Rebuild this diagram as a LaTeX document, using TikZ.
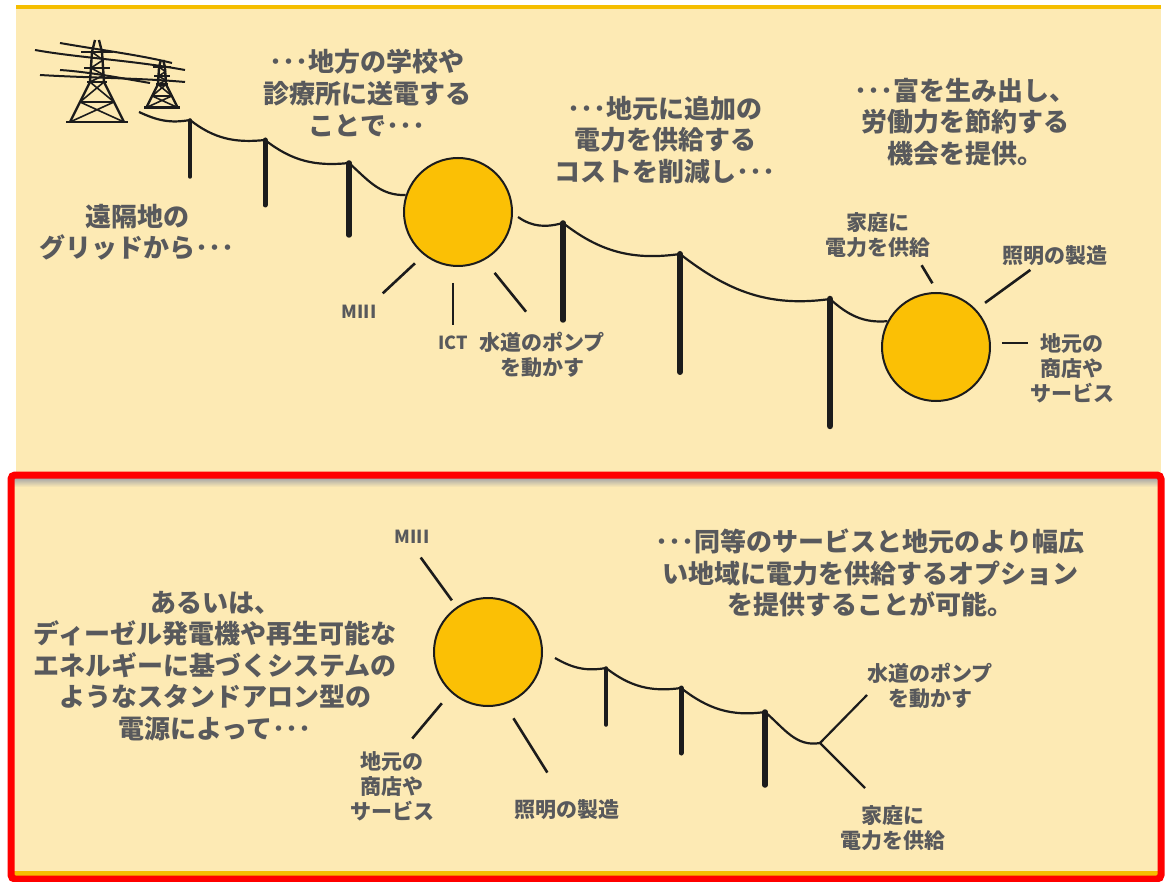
\documentclass[tikz,border=0pt]{standalone}
\usepackage{fontspec}
\setmainfont{Noto Sans CJK JP}
\usepackage{tikz}
\usetikzlibrary{calc,positioning}

\definecolor{panel}{RGB}{253,234,180}
\definecolor{sun}{RGB}{251,192,5}
\definecolor{ink}{RGB}{28,28,28}
\definecolor{txt}{RGB}{88,89,92}
\definecolor{trim}{RGB}{245,190,0}

\begin{document}
\begin{tikzpicture}[x=1pt, y=1pt,
  hub/.style={circle, draw=ink, line width=2pt, fill=sun, minimum size=108pt, inner sep=0pt},
  wire/.style={draw=ink, line width=2.2pt},
  pole/.style={draw=ink, line cap=round},
  spoke/.style={draw=ink, line width=2.6pt},
  cable/.style={draw=ink, line width=2pt},
  tower/.style={draw=ink, line width=2.4pt, line join=round},
  note/.style={font=\fontsize{26}{31.5}\selectfont\bfseries, text=txt, align=center, inner sep=0pt},
  tag/.style={font=\fontsize{21}{25}\selectfont\bfseries, text=txt, align=center, inner sep=0pt},
  abbr/.style={font=\fontsize{18}{20}\selectfont\bfseries, text=txt, inner sep=0pt},
  pics/pylon/.style={code={
    \draw[tower] (-2,0) -- (-5,-12) -- (-7,-42) -- (-27,-82);
    \draw[tower] (2,0) -- (5,-12) -- (7,-42) -- (27,-82);
    \draw[tower] (-16,-12) -- (16,-12) (-13,-28) -- (13,-28) (-10,-42) -- (10,-42);
    \draw[tower, line width=1.6pt] (-5,-12) -- (6,-20) -- (-6,-28) -- (7,-35) -- (-7,-42);
    \draw[tower, line width=1.6pt] (-7,-42) -- (17,-62) -- (-27,-82) (7,-42) -- (-17,-62) -- (27,-82)
      (-17,-62) -- (17,-62);
    \draw[tower] (-31,-82) -- (31,-82);
  }}
]
\useasboundingbox (0,0) rectangle (1165,-882);
\fill[white] (0,0) rectangle (1165,-882);

% panels
\fill[panel] (16,-5) rectangle (1161,-475);
\fill[trim] (16,-5) rectangle (1161,-9);
\fill[panel] (11,-475) rectangle (1161,-879);
\shade[top color=black!35, bottom color=panel] (14,-478) rectangle (1158,-487);
\fill[trim] (14,-871) rectangle (1158,-876);
\draw[red, line width=7pt, rounded corners=4pt] (11,-475) rectangle (1161,-879);

% pylons in the corner
\pic at (97,-40) {pylon};
\pic[scale=0.58] at (162,-60) {pylon};
\draw[cable] (35,-50) .. controls (80,-58) and (130,-60) .. (185,-70);
\draw[cable] (60,-43) .. controls (100,-50) and (140,-55) .. (172,-63);
\draw[cable] (40,-75) .. controls (90,-78) and (140,-78) .. (185,-82);
\draw[cable] (60,-70) .. controls (90,-72) and (120,-78) .. (150,-83);

% hubs
\node[hub] (h1) at (458,-212) {};
\node[hub] (h2) at (936,-347) {};
\node[hub] (h3) at (488,-652) {};

% poles
\foreach \n/\x/\t/\b/\w in {p1/190/120/177/3.5, p2/265/140/205/5, p3/349/163/235/5.5,
    p4/563/223/320/5.5, p5/680/254/372/6, p6/830/299/426/6.5,
    q1/606/668/725/3.5, q2/681/688/753/5, q3/765/712/785/5.5} {
  \coordinate (\n) at (\x,-\t);
  \coordinate (\n-foot) at (\x,-\b);
  \draw[pole, line width=\w pt] (\n) -- (\n-foot);
}

% lines between poles
\coordinate (w0) at (139,-112);
\coordinate (w1) at (518,-217);
\coordinate (w2) at (555,-658);
\coordinate (jn) at (820,-743);
\coordinate (jn-up) at (867,-695);
\coordinate (jn-down) at (865,-788);
\draw[wire] (w0) to[out=-25,in=190] (p1) to[out=-38,in=186] (p2) to[out=-38,in=186] (p3)
  to[out=-42,in=182] (h1.162);
\draw[wire] (w1) to[out=-35,in=195] (p4) to[out=-38,in=188] (p5) to[out=-38,in=188] (p6)
  to[out=-42,in=185] (h2.152);
\draw[wire] (w2) to[out=-30,in=190] (q1) to[out=-38,in=188] (q2) to[out=-38,in=188] (q3)
  to[out=-40,in=190] (jn);
\draw[wire] (jn-up) -- (jn) -- (jn-down);

% spokes
\foreach \h/\a/\r/\b/\l in {h1/-130/67/-137/44, h1/-94/71/-90/42, h1/-59/71/-51/50,
    h2/100/83/-59/21, h2/42/66/36/56, h2/3.5/66/0/26,
    h3/125/63/126/53, h3/-132/69/-130/46, h3/-69/71/-58/64}
  \draw[spoke] (\h) ++(\a:\r) -- ++(\b:\l);

% captions
\node[note] (t-school) at (367,-93) {･･･地方の学校や\\診療所に送電する\\ことで･･･};
\node[note] (t-cost) at (665,-140) {･･･地元に追加の\\電力を供給する\\コストを削減し･･･};
\node[note] (t-wealth) at (965,-122) {･･･富を生み出し、\\労働力を節約する\\機会を提供。};
\node[note] (t-grid) at (137,-232) {遠隔地の\\グリッドから･･･};
\node[note] (t-alone) at (215,-666) {あるいは、\\ディーゼル発電機や再生可能な\\エネルギーに基づくシステムの\\ようなスタンドアロン型の\\電源によって･･･};
\node[note] (t-option) at (870,-573) {･･･同等のサービスと地元のより幅広\\い地域に電力を供給するオプション\\を提供することが可能。};

% labels round the hubs
\node[abbr] (l-miii) at (359,-312) {MIII};
\node[abbr] (l-ict) at (453,-343) {ICT};
\node[tag] (l-pump) at (542,-355) {水道のポンプ\\を動かす};
\node[tag] (l-home) at (878,-235) {家庭に\\電力を供給};
\node[tag] (l-light) at (1055,-256) {照明の製造};
\node[tag] (l-shop) at (1072,-368) {地元の\\商店や\\サービス};
\node[abbr] (b-miii) at (412,-537) {MIII};
\node[tag] (b-shop) at (392,-786) {地元の\\商店や\\サービス};
\node[tag] (b-light) at (567,-810) {照明の製造};
\node[tag] (b-pump) at (930,-686) {水道のポンプ\\を動かす};
\node[tag] (b-home) at (893,-828) {家庭に\\電力を供給};
\end{tikzpicture}
\end{document}
